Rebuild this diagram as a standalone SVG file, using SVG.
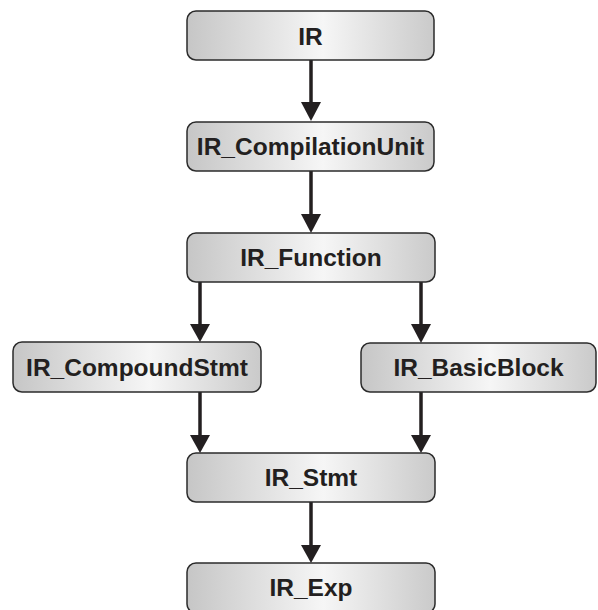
<svg xmlns="http://www.w3.org/2000/svg" width="598" height="610" viewBox="0 0 598 610">
<defs>
<linearGradient id="g" x1="0" y1="0" x2="1" y2="0">
<stop offset="0" stop-color="#c6c6c6"/>
<stop offset="0.55" stop-color="#f6f6f6"/>
<stop offset="1" stop-color="#cacaca"/>
</linearGradient>
<style>
.box{fill:url(#g);stroke:#2b2b2b;stroke-width:1.5}
.lbl{font-family:"Liberation Sans",Arial,sans-serif;font-weight:bold;font-size:24.5px;fill:#231f20;text-anchor:middle}
.edge{stroke:#231f20;stroke-width:3.5;fill:none}
.head{fill:#231f20}
</style>
</defs>
<rect width="598" height="610" fill="#ffffff"/>
<g id="connectors">
<line class="edge" x1="311" y1="60" x2="311" y2="104"/><path class="head" d="M301,102 L321,102 L311,121 Z"/>
<line class="edge" x1="311" y1="171" x2="311" y2="216"/><path class="head" d="M301,214 L321,214 L311,233 Z"/>
<line class="edge" x1="200" y1="282" x2="200" y2="326"/><path class="head" d="M190,324 L210,324 L200,342 Z"/>
<line class="edge" x1="421" y1="282" x2="421" y2="326"/><path class="head" d="M411,324 L431,324 L421,343 Z"/>
<line class="edge" x1="200" y1="392" x2="200" y2="437"/><path class="head" d="M190,435 L210,435 L200,453 Z"/>
<line class="edge" x1="421" y1="392" x2="421" y2="437"/><path class="head" d="M411,435 L431,435 L421,453 Z"/>
<line class="edge" x1="311" y1="502" x2="311" y2="547"/><path class="head" d="M301,545 L321,545 L311,563 Z"/>
</g>
<g id="n_ir"><rect class="box" x="187" y="11" width="247" height="49" rx="9"/><text class="lbl" x="310.5" y="44.5">IR</text></g>
<g id="n_cu"><rect class="box" x="187" y="122" width="247" height="49" rx="9"/><text class="lbl" x="310.5" y="155">IR_CompilationUnit</text></g>
<g id="n_fn"><rect class="box" x="187" y="233" width="248" height="49" rx="9"/><text class="lbl" x="311" y="266">IR_Function</text></g>
<g id="n_cs"><rect class="box" x="13" y="342" width="248" height="50" rx="9"/><text class="lbl" x="137" y="376">IR_CompoundStmt</text></g>
<g id="n_bb"><rect class="box" x="361" y="343" width="235" height="49" rx="9"/><text class="lbl" x="478.5" y="376">IR_BasicBlock</text></g>
<g id="n_st"><rect class="box" x="187" y="453" width="248" height="49" rx="9"/><text class="lbl" x="311" y="486">IR_Stmt</text></g>
<g id="n_ex"><rect class="box" x="187" y="563" width="248" height="50" rx="9"/><text class="lbl" x="311" y="596">IR_Exp</text></g>
</svg>
